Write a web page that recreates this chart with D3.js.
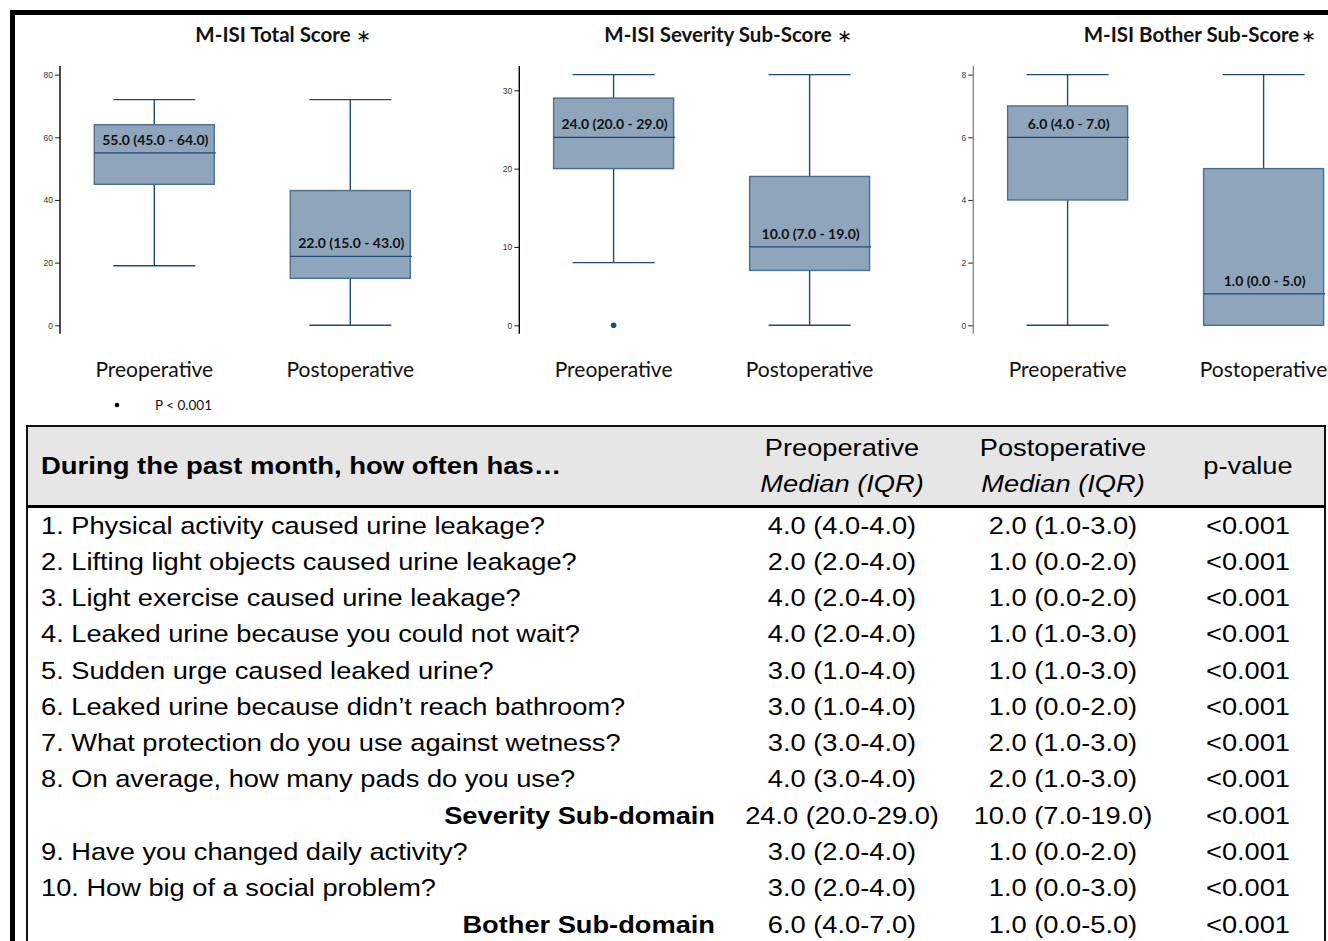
<!DOCTYPE html>
<html>
<head>
<meta charset="utf-8">
<script src="https://cdn.jsdelivr.net/npm/d3@7"></script>
<style>
  html, body { margin: 0; padding: 0; background: #fff; }
  svg { display: block; }
</style>
</head>
<body>
<svg id="fig" width="1328" height="941"></svg>
<script>
// ---- Box plot data: M-ISI scores before and after surgery ----
const groups = ["Preoperative", "Postoperative"];

const panelTitles = ["M-ISI Total Score", "M-ISI Severity Sub-Score", "M-ISI Bother Sub-Score"];
const panelMax = [80, 32, 8];
const panelTicks = [[0, 20, 40, 60, 80], [0, 10, 20, 30], [0, 2, 4, 6, 8]];

// five-number summaries per group: [low whisker, Q1, median, Q3, high whisker]
const totalScore = [[19, 45, 55, 64, 72], [0, 15, 22, 43, 72]];
const severityScore = [[8, 20, 24, 29, 32], [0, 7, 10, 19, 32]];
const botherScore = [[0, 4, 6, 7, 8], [0, 0, 1, 5, 8]];
// outlying points per group
const totalOutliers = [[], []];
const severityOutliers = [[0], []];
const botherOutliers = [[], []];

const legendText = "P < 0.001";

// ---- Table data ----
const headerQuestion = "During the past month, how often has\u2026";
const headerCols = [["Preoperative", "Median (IQR)"], ["Postoperative", "Median (IQR)"], ["p-value", null]];
const itemLabels = [
  "1. Physical activity caused urine leakage?",
  "2. Lifting light objects caused urine leakage?",
  "3. Light exercise caused urine leakage?",
  "4. Leaked urine because you could not wait?",
  "5. Sudden urge caused leaked urine?",
  "6. Leaked urine because didn\u2019t reach bathroom?",
  "7. What protection do you use against wetness?",
  "8. On average, how many pads do you use?",
  "Severity Sub-domain",
  "9. Have you changed daily activity?",
  "10. How big of a social problem?",
  "Bother Sub-domain"
];
const subdomainRows = ["Severity Sub-domain", "Bother Sub-domain"];
const preValues = ["4.0 (4.0-4.0)", "2.0 (2.0-4.0)", "4.0 (2.0-4.0)", "4.0 (2.0-4.0)", "3.0 (1.0-4.0)", "3.0 (1.0-4.0)",
  "3.0 (3.0-4.0)", "4.0 (3.0-4.0)", "24.0 (20.0-29.0)", "3.0 (2.0-4.0)", "3.0 (2.0-4.0)", "6.0 (4.0-7.0)"];
const postValues = ["2.0 (1.0-3.0)", "1.0 (0.0-2.0)", "1.0 (0.0-2.0)", "1.0 (1.0-3.0)", "1.0 (1.0-3.0)", "1.0 (0.0-2.0)",
  "2.0 (1.0-3.0)", "2.0 (1.0-3.0)", "10.0 (7.0-19.0)", "1.0 (0.0-2.0)", "1.0 (0.0-3.0)", "1.0 (0.0-5.0)"];
const pValues = ["<0.001", "<0.001", "<0.001", "<0.001", "<0.001", "<0.001",
  "<0.001", "<0.001", "<0.001", "<0.001", "<0.001", "<0.001"];

// ---- Layout ----
const svg = d3.select("#fig");
const chartFont = "Lato, 'Open Sans', sans-serif";
const tableFont = "'Liberation Sans', Arial, sans-serif";
const boxFill = "#8ea5bb";
const boxStroke = "#4b6e93";
const lineColor = "#1f4a78";

const panelX = [60, 519.3, 973.3];              // x of each y-axis
const titleCenter = [283, 728, 1200];            // centre of each title (incl. mark)
const axisColors = ["#000", "#000", "#8a8a8a"];
const plotTop = 74.6, plotBottom = 325.3, axisOverhang = 8.5;
const boxW = 120, capW = 82;

const stats = [totalScore, severityScore, botherScore];
const outliers = [totalOutliers, severityOutliers, botherOutliers];

// outer frame
svg.append("path")
  .attr("d", "M12.5,941 V12.5 H1328")
  .attr("fill", "none").attr("stroke", "#000").attr("stroke-width", 5);

panelTitles.forEach((title, i) => {
  const g = svg.append("g").attr("transform", `translate(${panelX[i]},0)`);
  const y = d3.scaleLinear().domain([0, panelMax[i]]).range([plotBottom, plotTop]);
  const x = d3.scalePoint().domain(groups).range([94.3, 290.3]);

  // title with significance mark
  const t = svg.append("text")
    .attr("x", titleCenter[i]).attr("y", 42)
    .attr("text-anchor", "middle")
    .attr("font-family", chartFont).attr("font-size", 20.5).attr("font-weight", 700)
    .attr("fill", "#111");
  t.append("tspan").text(title);
  t.append("tspan").attr("dx", i === 2 ? 2 : 5).attr("font-weight", 400).attr("font-size", 18).text("\u2217");

  // y axis
  const axis = d3.axisLeft(y).tickValues(panelTicks[i]).tickSize(5).tickPadding(2).tickFormat(d3.format("d"));
  const ag = g.append("g").call(axis);
  ag.select(".domain").remove();
  ag.selectAll(".tick line").attr("stroke", "#222");
  ag.selectAll(".tick text").attr("font-family", "'Liberation Sans', Arial, sans-serif")
    .attr("font-size", 8.5).attr("fill", "#333");
  g.append("line")
    .attr("x1", 0).attr("x2", 0)
    .attr("y1", plotTop - axisOverhang).attr("y2", plotBottom + axisOverhang)
    .attr("stroke", axisColors[i]).attr("stroke-width", 1.4);

  // boxes
  groups.forEach((grp, j) => {
    const [lo, q1, med, q3, hi] = stats[i][j];
    const cx = x(grp);
    const bg = g.append("g");
    // whiskers
    bg.append("line").attr("x1", cx).attr("x2", cx).attr("y1", y(q3)).attr("y2", y(hi))
      .attr("stroke", lineColor).attr("stroke-width", 1.4);
    bg.append("line").attr("x1", cx).attr("x2", cx).attr("y1", y(q1)).attr("y2", y(lo))
      .attr("stroke", lineColor).attr("stroke-width", 1.4);
    bg.append("line").attr("x1", cx - capW / 2).attr("x2", cx + capW / 2).attr("y1", y(hi)).attr("y2", y(hi))
      .attr("stroke", lineColor).attr("stroke-width", 1.4);
    bg.append("line").attr("x1", cx - capW / 2).attr("x2", cx + capW / 2).attr("y1", y(lo)).attr("y2", y(lo))
      .attr("stroke", lineColor).attr("stroke-width", 1.4);
    // box
    bg.append("rect")
      .attr("x", cx - boxW / 2).attr("width", boxW)
      .attr("y", y(q3)).attr("height", y(q1) - y(q3))
      .attr("fill", boxFill).attr("stroke", boxStroke).attr("stroke-width", 1.4);
    // median
    bg.append("line").attr("x1", cx - boxW / 2).attr("x2", cx + boxW / 2 + 1.5)
      .attr("y1", y(med)).attr("y2", y(med))
      .attr("stroke", lineColor).attr("stroke-width", 1.2);
    // outliers
    outliers[i][j].forEach(v => {
      bg.append("circle").attr("cx", cx).attr("cy", y(v)).attr("r", 2.8).attr("fill", lineColor);
    });
    // median (IQR) label
    bg.append("text")
      .attr("x", cx + 1).attr("y", y(med) - 8)
      .attr("text-anchor", "middle")
      .attr("font-family", chartFont).attr("font-size", 14).attr("font-weight", 700)
      .attr("fill", "#111")
      .text(`${med.toFixed(1)} (${q1.toFixed(1)} - ${q3.toFixed(1)})`);
    // category label
    g.append("text")
      .attr("x", cx).attr("y", 377)
      .attr("text-anchor", "middle")
      .attr("font-family", chartFont).attr("font-size", 21)
      .attr("fill", "#111")
      .text(grp);
  });
});

// legend
svg.append("circle").attr("cx", 117).attr("cy", 405).attr("r", 2.3).attr("fill", "#000");
svg.append("text").attr("x", 155).attr("y", 410)
  .attr("font-family", chartFont).attr("font-size", 13.5).attr("fill", "#111").text(legendText);

// ---- Table ----
const tableLeft = 27, tableRight = 1325, tableTop = 426, headerBottom = 506.5;
const colCenters = [842, 1063, 1248];
const rowY = d3.scaleLinear().domain([0, itemLabels.length - 1]).range([533.5, 932.5]);
const stretch = 1.135;

svg.append("rect")
  .attr("x", tableLeft).attr("y", tableTop)
  .attr("width", tableRight - tableLeft).attr("height", headerBottom - tableTop)
  .attr("fill", "#e6e6e6");
svg.append("path")
  .attr("d", `M${tableLeft},941 V${tableTop} H${tableRight} V941`)
  .attr("fill", "none").attr("stroke", "#111").attr("stroke-width", 2);
svg.append("line")
  .attr("x1", tableLeft).attr("x2", tableRight)
  .attr("y1", headerBottom).attr("y2", headerBottom)
  .attr("stroke", "#000").attr("stroke-width", 3);

function cell(x, y, txt, anchor, opts = {}) {
  return svg.append("text")
    .attr("transform", `translate(${x},${y}) scale(${opts.sx || stretch},1)`)
    .attr("text-anchor", anchor)
    .attr("font-family", tableFont)
    .attr("font-size", 24)
    .attr("font-weight", opts.bold ? 700 : 400)
    .attr("font-style", opts.italic ? "italic" : "normal")
    .attr("fill", "#000")
    .text(txt);
}

cell(41, 474, headerQuestion, "start", { bold: true, sx: 1.145 });
headerCols.forEach((hc, k) => {
  if (hc[1]) {
    cell(colCenters[k], 456, hc[0], "middle");
    cell(colCenters[k], 492, hc[1], "middle", { italic: true });
  } else {
    cell(colCenters[k], 474, hc[0], "middle");
  }
});

itemLabels.forEach((lab, r) => {
  const yy = rowY(r);
  if (subdomainRows.includes(lab)) cell(715, yy, lab, "end", { bold: true });
  else cell(41, yy, lab, "start");
  cell(colCenters[0], yy, preValues[r], "middle");
  cell(colCenters[1], yy, postValues[r], "middle");
  cell(colCenters[2], yy, pValues[r], "middle");
});
</script>
</body>
</html>
